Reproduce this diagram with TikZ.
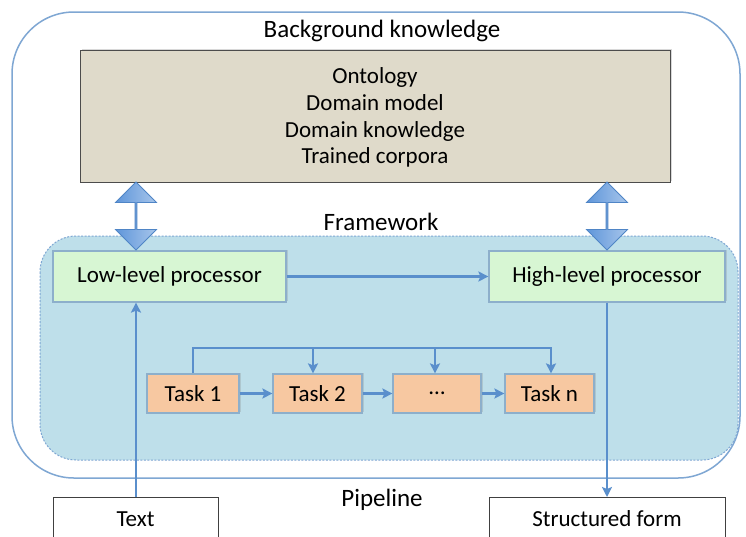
\documentclass[tikz,border=0pt]{standalone}
\usepackage{fontspec}
\setmainfont{Carlito}
\usetikzlibrary{arrows.meta,shapes.arrows,shadows}
\definecolor{outerblue}{HTML}{7FA7D3}
\definecolor{fwfill}{HTML}{BEDFEA}
\definecolor{fwline}{HTML}{7FA7D3}
\definecolor{arrowblue}{HTML}{5A8FCC}
\definecolor{greenfill}{HTML}{D7F6D3}
\definecolor{boxline}{HTML}{8DAFCB}
\definecolor{taskfill}{HTML}{F7C8A1}
\definecolor{beige}{HTML}{DFDACA}
\definecolor{dblfill}{HTML}{5F96DA}
\definecolor{dblline}{HTML}{4F85C6}
\tikzset{
  every node/.style={font=\fontsize{23}{27}\selectfont},
  headfont/.style={font=\fontsize{25}{29}\selectfont},
  procbox/.style={draw=boxline, line width=1.2pt, fill=greenfill, inner sep=0pt,
    drop shadow={shadow xshift=1.5pt, shadow yshift=1.5pt, opacity=0.25}},
  taskbox/.style={draw=boxline, line width=1.2pt, fill=taskfill, inner sep=0pt,
    minimum height=39pt, drop shadow={shadow xshift=1.5pt, shadow yshift=1.5pt, opacity=0.25}},
  iobox/.style={draw=black!75, line width=1pt, fill=white, anchor=north,
    inner xsep=0pt, inner ysep=10pt, text height=19pt, text depth=40pt},
  flow/.style={draw=arrowblue, line width=2.3pt, -{Stealth[length=10pt,width=10pt,inset=2pt]}},
  flowline/.style={draw=arrowblue, line width=2.3pt},
  dblarrow/.style={double arrow, draw=dblline, line width=0.8pt,
    left color=dblfill, right color=dblfill!55!white,
    minimum width=41pt, minimum height=68pt, double arrow head extend=9pt,
    inner sep=0pt, rotate=90}
}
\begin{document}
\begin{tikzpicture}[x=1pt,y=-1pt]
\clip (0,0) rectangle (746,536);
\fill[white] (0,0) rectangle (746,536);
% Pipeline container
\draw[outerblue, line width=1.5pt, fill=white, rounded corners=62pt] (12,12) rectangle (740,478);
\node[headfont] (bgtitle) at (382,31) {Background knowledge};
% Background knowledge box
\node[draw=black!70, line width=1pt, fill=beige, minimum width=590pt, minimum height=132pt,
  inner sep=0pt, drop shadow={shadow xshift=1.5pt, shadow yshift=1.5pt, opacity=0.3}] (bg) at (375,116) {};
\node (l1) at (375,77) {Ontology};
\node (l2) at (375,103) {Domain model};
\node (l3) at (375,131) {Domain knowledge};
\node (l4) at (375,157) {Trained corpora};
% Framework
\node[headfont] (fwtitle) at (381,222) {Framework};
\draw[fwline, line width=1pt, fill=fwfill, dash pattern=on 2pt off 1.5pt, rounded corners=36pt] (40,236) rectangle (738,460);
% Processors
\node[procbox, minimum width=233pt, minimum height=51pt] (low) at (169.5,276.5) {Low-level processor};
\node[procbox, minimum width=236pt, minimum height=51pt] (high) at (607,276.5) {High-level processor};
% double arrows
\node[dblarrow] (d1) at (136,216) {};
\node[dblarrow] (d2) at (607,216) {};
% Tasks
\node[taskbox, minimum width=92pt] (t1) at (193,393.5) {Task 1};
\node[taskbox, minimum width=89pt] (t2) at (317.5,393.5) {Task 2};
\node[taskbox, minimum width=88pt] (t3) at (437,393.5) {\ldots};
\node[taskbox, minimum width=89pt] (tn) at (549.5,393.5) {Task n};
% IO boxes
\node[iobox, minimum width=165pt] (text) at (135.5,497) {Text};
\node[iobox, minimum width=236pt] (sf) at (607,497) {Structured form};
\node[headfont] (pipe) at (382,500) {Pipeline};
% connectors
\draw[flow] (low.east) -- (high.west);
\draw[flow] (t1) -- (t2);
\draw[flow] (t2) -- (t3);
\draw[flow] (t3) -- (tn);
\coordinate (fb1) at (193,348);
\coordinate (fb2) at (313,348);
\coordinate (fb3) at (435,348);
\coordinate (fbn) at (551,348);
\draw[flowline] (t1.north) -- (fb1) -- (fbn);
\draw[flow] (fb1) -| (tn.north -| fbn);
\draw[flow] (fb2) -- (t2.north -| fb2);
\draw[flow] (fb3) -- (t3.north -| fb3);
\draw[flow] (text.north -| d1) -- (low.south -| d1);
\draw[flow] (high.south) -- (sf.north);
\end{tikzpicture}
\end{document}
